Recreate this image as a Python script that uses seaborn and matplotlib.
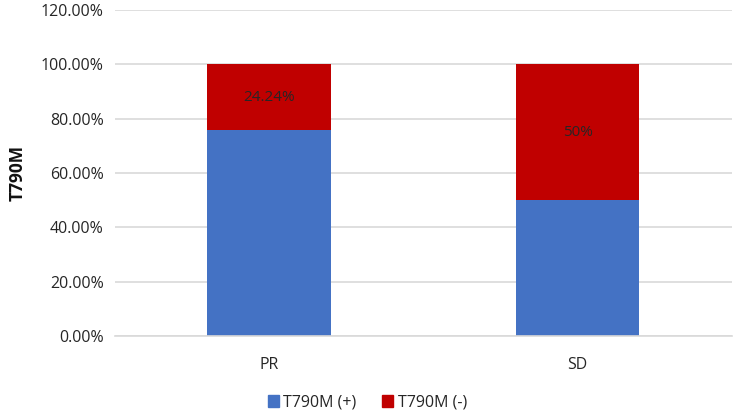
import pandas as pd
import matplotlib.pyplot as plt
import seaborn as sns
from matplotlib.patches import Patch
from matplotlib.ticker import PercentFormatter

# Data
categories = ["PR", "SD"]
positive = [75.76, 50.0]
negative = [24.24, 50.0]
neg_labels = ["24.24%", "50%"]

BLUE = "#4472C4"
RED = "#C00000"

df = pd.DataFrame({"Group": categories, "Pos": positive, "Neg": negative})
df["Total"] = df["Pos"] + df["Neg"]

sns.set_theme(style="white")
plt.rcParams["font.family"] = ["Open Sans", "DejaVu Sans"]

fig = plt.figure(figsize=(7.35, 4.13), dpi=100)
ax = fig.add_axes([0.156, 0.186, 0.84, 0.79])

# stacked bars: full height in red, positive part in blue on top of it
sns.barplot(data=df, x="Group", y="Total", color=RED, width=0.4,
            saturation=1, linewidth=0, ax=ax, zorder=3)
sns.barplot(data=df, x="Group", y="Pos", color=BLUE, width=0.4,
            saturation=1, linewidth=0, ax=ax, zorder=3)

for i, (p, n, lab) in enumerate(zip(positive, negative, neg_labels)):
    ax.text(i, p + n / 2, lab, ha="center", va="center",
            fontsize=11, color="#262626", zorder=4)

ax.set_ylim(0, 120)
ax.set_xlim(-0.5, 1.5)
ax.set_yticks(range(0, 121, 20))
ax.yaxis.set_major_formatter(PercentFormatter(100, decimals=2))
ax.grid(axis="y", color="#d9d9d9", linewidth=1.2, zorder=0)
ax.set_axisbelow(True)
for s in ax.spines.values():
    s.set_visible(False)
ax.spines["bottom"].set_visible(True)
ax.spines["bottom"].set_color("#d9d9d9")
ax.spines["bottom"].set_linewidth(1.2)
ax.spines["bottom"].set_zorder(5)
ax.tick_params(axis="both", length=0, labelsize=11.5, colors="#262626")
ax.tick_params(axis="y", pad=8)
ax.tick_params(axis="x", pad=15)
ax.set_xlabel("")
ax.set_ylabel("T790M", fontsize=12.5, fontweight="bold", color="#111111",
              labelpad=10)

handles = [Patch(color=BLUE, label="T790M (+)"),
           Patch(color=RED, label="T790M (-)")]
fig.legend(handles=handles, loc="center", bbox_to_anchor=(0.5, 0.025),
           ncol=2, frameon=False, fontsize=11.5, handlelength=0.7,
           handleheight=0.7, handletextpad=0.3, columnspacing=1.6)

fig.savefig("out.png", dpi=100)
